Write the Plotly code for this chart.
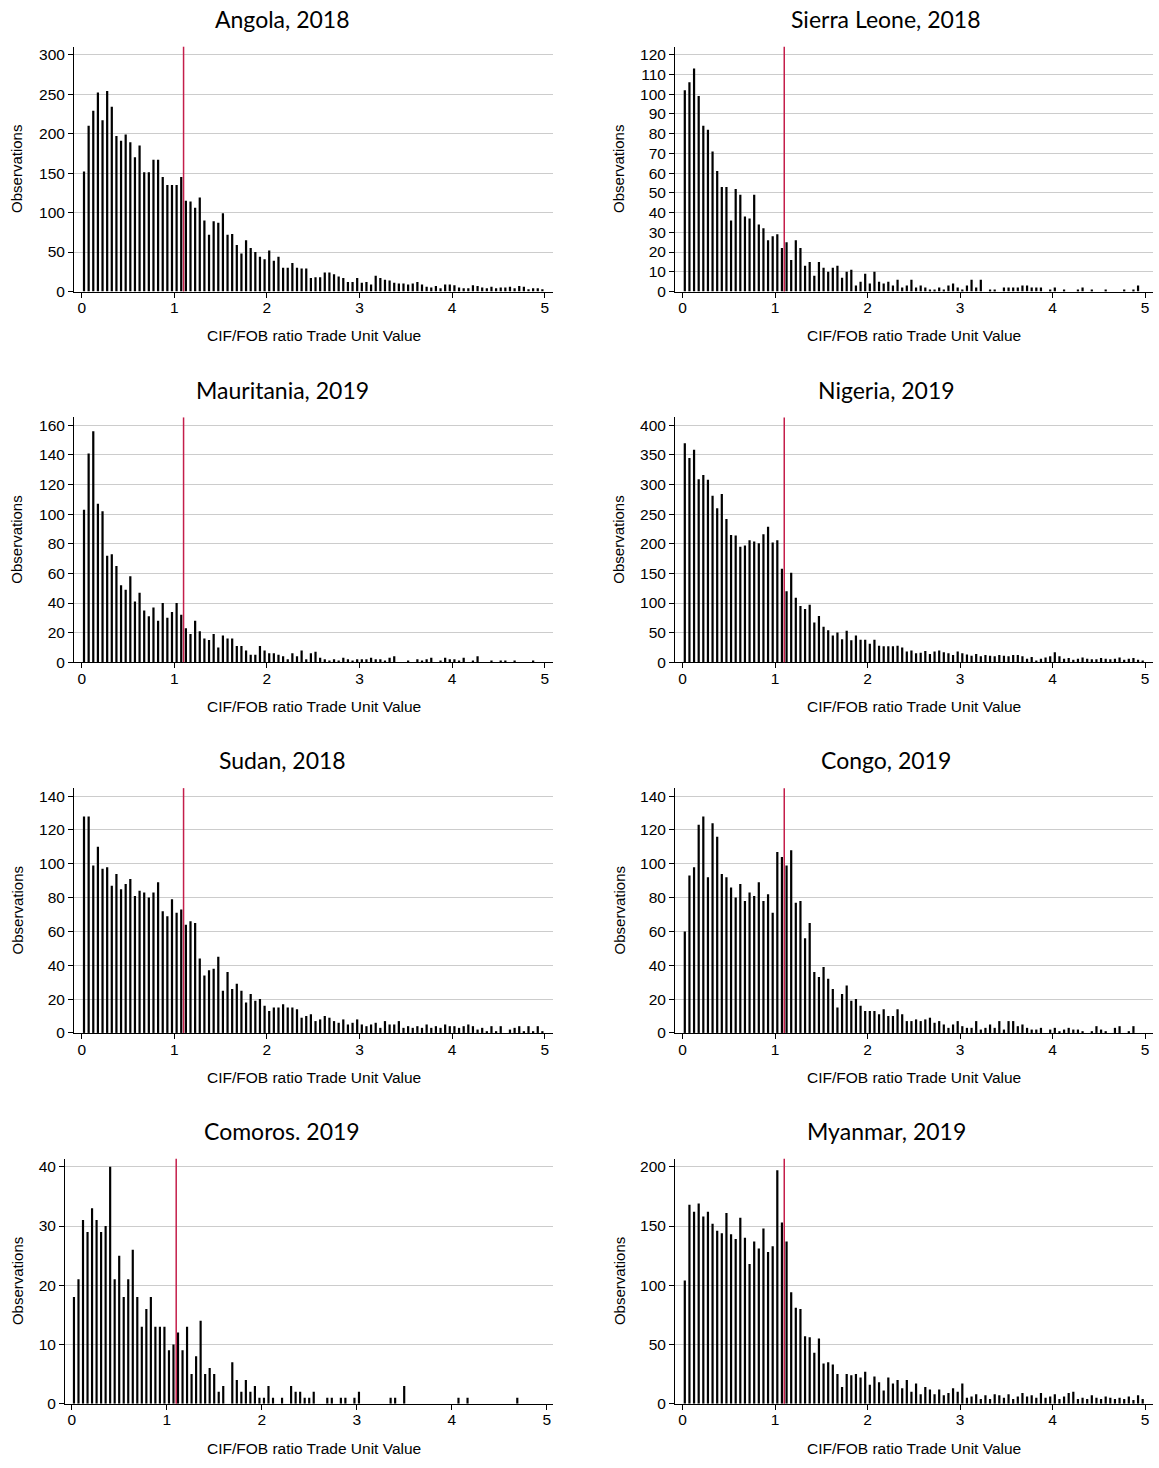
import plotly.graph_objects as go

W, H = 1159, 1468

# ---- data: counts per bin (bins of width 0.05 from 0 to 5, Comoros: 105 bins) ----
angola = [152,210,229,252,217,254,234,197,191,199,189,170,185,151,151,167,167,145,135,135,
          135,145,115,114,106,119,90,72,89,87,99,72,73,59,48,65,55,50,44,41,
          52,39,44,30,30,36,30,29,29,17,18,
          18,24,24,22,19,17,12,12,17,11,12,9,20,17,15,14,11,10,10,9,
          10,12,9,6,5,7,4,9,9,8,5,4,4,8,7,5,4,6,4,5,5,6,4,7,6,3,4,4,3]
sierra = [102,106,113,99,84,82,71,61,53,53,36,52,49,38,37,49,34,32,26,28,
          29,22,25,16,26,22,13,15,8,15,12,10,12,13,7,10,11,3,5,9,
          4,10,5,4,5,3,6,
          2,3,6,2,3,2,1,1,2,1,3,4,2,1,3,6,2,6,0,1,1,0,2,2,2,2,3,3,2,2,
          2,0,1,2,0,1,0,0,1,2,0,1,0,0,1,0,0,0,1,0,1,3,0]
mauritania = [103,141,156,107,102,72,73,65,52,49,58,41,47,35,31,37,28,40,30,34,
              40,32,23,19,28,21,16,15,19,10,18,16,16,11,11,8,5,5,11,8,
              6,6,5,4,2,6,4,8,2,6,7,
              3,2,1,2,1,3,2,1,2,2,2,3,2,2,1,3,4,0,0,1,0,2,1,2,3,0,1,3,2,2,
              1,3,0,1,4,0,0,1,0,1,1,0,1,0,0,0,1,0,0]
nigeria = [370,345,359,309,316,308,281,260,284,242,215,214,195,197,206,204,201,216,229,202,
           206,158,120,151,109,95,90,97,67,78,60,54,45,50,39,53,37,45,38,38,
           31,38,28,27,27,27,28,
           25,18,20,15,16,19,14,18,20,17,15,12,18,15,13,11,14,10,12,11,
           10,12,11,10,12,12,10,6,9,3,6,8,10,17,10,6,7,4,6,8,
           6,5,5,7,6,5,6,8,4,6,7,4,3]
sudan = [128,128,99,110,97,98,87,94,85,88,91,81,84,83,80,83,89,72,69,79,
         71,73,64,66,65,44,34,37,38,45,25,36,26,29,25,18,23,19,20,16,
         13,15,15,17,15,15,14,9,10,11,7,
         8,10,9,7,6,8,5,6,8,5,4,5,6,3,7,5,5,7,3,4,
         3,4,3,5,3,4,3,5,4,4,3,4,5,4,2,3,1,4,1,4,0,2,3,4,1,4,1,4,1]
congo = [60,93,98,123,128,92,124,116,94,92,86,80,88,78,83,81,89,78,82,71,
         107,104,99,108,77,78,56,65,36,33,39,32,26,15,23,28,19,20,16,13,
         13,13,11,14,10,10,14,
         11,7,7,8,7,8,9,6,7,5,3,5,7,4,3,3,7,2,3,5,
         3,7,2,7,7,4,5,3,2,2,3,0,2,3,1,2,3,2,2,1,
         0,1,4,2,1,0,3,4,0,1,4,0,0]
comoros = [18,21,31,29,33,31,29,30,40,21,25,18,21,26,18,13,16,18,13,13,
           13,9,10,12,9,13,5,8,14,5,6,5,2,3,0,7,4,2,4,2,
           3,1,1,3,1,0,1,0,3,2,2,1,1,2,
           0,0,1,1,0,1,1,0,1,2,0,0,0,0,0,0,1,1,0,3,
           0,0,0,0,0,0,0,0,0,0,0,1,0,1,0,0,0,0,0,0,
           0,0,0,0,1,0,0,0,0,0,0]
myanmar = [104,168,162,169,158,162,152,146,144,161,143,139,157,140,118,137,131,148,128,133,
           197,153,137,94,81,80,57,56,43,55,34,35,33,25,14,25,24,25,22,27,
           16,23,18,11,22,17,20,
           13,20,10,17,8,14,12,8,12,7,9,13,10,17,5,6,8,4,7,4,
           8,7,5,8,4,6,9,6,7,5,9,5,6,8,4,6,9,10,4,5,
           4,7,5,4,6,5,4,5,4,6,3,7,4]

titles = ["Angola, 2018", "Sierra Leone, 2018", "Mauritania, 2019", "Nigeria, 2019",
          "Sudan, 2018", "Congo, 2019", "Comoros. 2019", "Myanmar, 2019"]
series = [angola, sierra, mauritania, nigeria, sudan, congo, comoros, myanmar]
ytick_step = [50, 10, 20, 50, 20, 20, 10, 50]
ytick_max = [300, 120, 160, 400, 140, 140, 40, 200]
x_ticks = [0, 1, 2, 3, 4, 5]
threshold = 1.1
x_label = "CIF/FOB ratio Trade Unit Value"
y_label = "Observations"

# ---- layout geometry (pixels) ----
row_step = 373
top0, bot0 = 46, 292.3
left_dom = (74, 553)
right_dom = (675, 1153)
comoros_dom = (65, 553)

SANS = "Liberation Sans, Arial, sans-serif"
fig = go.Figure()
layout = dict(width=W, height=H, margin=dict(l=0, r=0, t=0, b=0),
              paper_bgcolor="white", plot_bgcolor="white", showlegend=False,
              font=dict(family=SANS, size=15.5, color="black"),
              annotations=[], shapes=[])

tick_font = dict(family=SANS, size=15.5, color="black")

for i, (title, vals) in enumerate(zip(titles, series)):
    r, c = divmod(i, 2)
    n = len(vals)
    bw = 5.0 / n
    centers = [(k + 0.5) * bw for k in range(n)]
    if i == 6:
        dom = comoros_dom
        x0px, ppu = 71.7, 95.0
    elif c == 0:
        dom = left_dom
        x0px, ppu = 81.7, 92.6
    else:
        dom = right_dom
        x0px, ppu = 682.5, 92.5
    xr = [(dom[0] - x0px) / ppu, (dom[1] - x0px) / ppu]
    top = top0 + r * row_step
    bot = bot0 + r * row_step
    ymax = ytick_max[i] * (bot - top) / (bot - top - 8)
    ax = "" if i == 0 else str(i + 1)
    xa, ya = "x" + ax, "y" + ax
    fig.add_trace(go.Bar(x=centers, y=vals, width=bw * 0.48, marker=dict(color="black", line=dict(width=0)),
                         xaxis=xa, yaxis=ya, hoverinfo="skip"))
    layout["xaxis" + ax] = dict(domain=[dom[0] / W, dom[1] / W], range=xr, anchor=ya,
                                tickvals=x_ticks, ticks="outside", ticklen=5, tickcolor="black",
                                ticklabelstandoff=-3,
                                showline=True, linecolor="black", linewidth=1, showgrid=False,
                                zeroline=False, tickfont=tick_font)
    layout["yaxis" + ax] = dict(domain=[1 - bot / H, 1 - top / H], range=[0, ymax], anchor=xa,
                                tickvals=list(range(0, ytick_max[i] + 1, ytick_step[i])),
                                ticks="outside", ticklen=5, tickcolor="black",
                                showline=True, linecolor="black", linewidth=1,
                                showgrid=True, gridcolor="#cccccc", gridwidth=1,
                                zeroline=False, tickfont=tick_font)
    layout["shapes"].append(dict(type="line", xref=xa, yref=ya + " domain", x0=threshold, x1=threshold,
                                 y0=0, y1=1, line=dict(color="#C41E4A", width=1.5)))
    cx = 282 if c == 0 else 886
    layout["annotations"].append(dict(text=title, x=cx / W, y=1 - (18 + r * row_step) / H,
                                      xref="paper", yref="paper", showarrow=False,
                                      xanchor="center", yanchor="middle",
                                      font=dict(family="Lato, Open Sans, sans-serif", size=23, color="black")))
    layout["annotations"].append(dict(text=x_label, x=((dom[0] + dom[1]) / 2 if i != 6 else 314) / W,
                                      y=1 - (337 + r * row_step) / H,
                                      xref="paper", yref="paper", showarrow=False,
                                      xanchor="center", yanchor="middle", font=tick_font))
    yx = 17 if c == 0 else 619
    layout["annotations"].append(dict(text=y_label, x=yx / W, y=1 - (169 + r * row_step) / H,
                                      xref="paper", yref="paper", showarrow=False, textangle=-90,
                                      xanchor="center", yanchor="middle",
                                      font=dict(family=SANS, size=15, color="black")))

fig.update_layout(**layout)
fig.write_html("out.html")
